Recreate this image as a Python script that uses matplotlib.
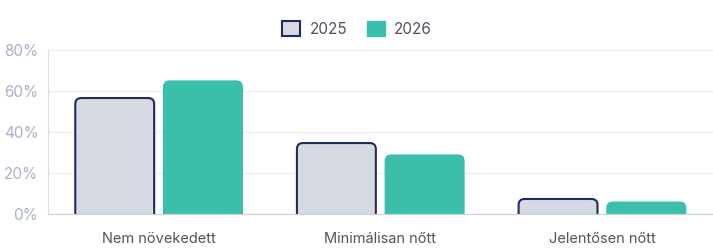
import matplotlib.pyplot as plt
from matplotlib.patches import FancyBboxPatch, Patch
import numpy as np

categories = ["Nem növekedett", "Minimálisan nőtt", "Jelentősen nőtt"]
series_names = ["2025", "2026"]
values_2025 = [56.4, 34.5, 7.3]
values_2026 = [64.7, 28.7, 5.8]
yticks = [0, 20, 40, 60, 80]

c_2025 = "#d5d9e2"
e_2025 = "#1e2b5e"
c_2026 = "#3bbfad"

plt.rcParams['font.family'] = ['Inter', 'DejaVu Sans']

fig = plt.figure(figsize=(7.13, 2.5), dpi=100)
ax = fig.add_axes([48 / 713, 1 - 214 / 250, 1 - 48 / 713, (214 - 49.5) / 250])
ax.set_xlim(-0.5, 2.5)
ax.set_ylim(0, 80)

x = np.arange(len(categories))
w = 0.356
off = 0.199

fig.canvas.draw()
# pixel sizes of one data unit, for rounded corners
p0 = ax.transData.transform((0, 0))
p1 = ax.transData.transform((1, 1))
px_x = p1[0] - p0[0]
px_y = p1[1] - p0[1]
r_px = 6
r = r_px / px_x
aspect = px_x / px_y


def rounded_bar(xc, h, face, edge, lw):
    patch = FancyBboxPatch((xc - w / 2, -10), w, h + 10,
                           boxstyle=f"round,pad=0,rounding_size={r}",
                           mutation_aspect=aspect,
                           facecolor=face, edgecolor=edge, linewidth=lw, zorder=3)
    ax.add_patch(patch)


for i in range(len(categories)):
    rounded_bar(x[i] - off, values_2025[i], c_2025, e_2025, 1.5)
    rounded_bar(x[i] + off, values_2026[i], c_2026, c_2026, 0.8)

ax.set_yticks(yticks, labels=[f"{t}%" for t in yticks])
ax.set_xticks(x, labels=categories)
ax.yaxis.grid(True, color="#eeeff2", linewidth=1, zorder=0)
ax.set_axisbelow(True)
ax.tick_params(axis='y', length=0, pad=7, labelsize=11, labelcolor="#a9b1c6")
ax.tick_params(axis='x', length=0, pad=13, labelsize=10.5, labelcolor="#50535f")
for s in ['top', 'right']:
    ax.spines[s].set_visible(False)
ax.spines['left'].set_color("#dcdde2")
ax.spines['bottom'].set_color("#cfd1d6")
ax.spines['bottom'].set_zorder(4)

handles = [Patch(facecolor=c_2025, edgecolor=e_2025, linewidth=1.5),
           Patch(facecolor=c_2026, edgecolor=c_2026)]
fig.legend(handles, series_names, loc="center", bbox_to_anchor=(357 / 713, 1 - 29 / 250),
           ncol=2, frameon=False, fontsize=11, labelcolor="#50535f",
           handlelength=1.2, handleheight=1.1, handletextpad=0.6, columnspacing=1.3)

plt.savefig("out.png", dpi=100)
